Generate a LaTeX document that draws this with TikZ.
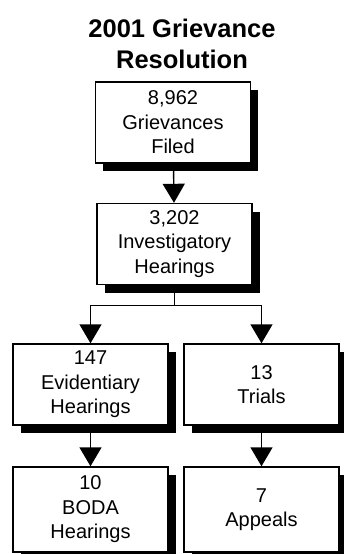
\documentclass[tikz,border=0pt]{standalone}
\usepackage{fontspec}
\setmainfont{Liberation Sans}
\usetikzlibrary{positioning,arrows.meta,shadows}

\begin{document}
\begin{tikzpicture}[x=1pt, y=-1pt,
  stage/.style={draw, line width=1.4pt, fill=white, align=center, inner sep=0pt,
    minimum width=155pt, minimum height=81pt, font=\fontsize{20}{24.5}\selectfont,
    general shadow={fill=black, shadow xshift=7.5pt, shadow yshift=-8pt}},
  flow/.style={line width=1.4pt, -{Triangle[width=22pt, length=19pt]}},
  stem/.style={line width=1.4pt}]
\useasboundingbox (0,0) rectangle (344,554);
\node[font=\bfseries\fontsize{25.5}{31}\selectfont, align=center] (title) at (182,44) {2001 Grievance\\Resolution};
\node[stage] (filed) at (173,122.5) {8,962\\Grievances\\Filed};
\node[stage] (invest) at (174.5,244) {3,202\\Investigatory\\Hearings};
\node[stage] (evid) at (90.5,384.5) {147\\Evidentiary\\Hearings};
\node[stage] (trials) at (261.5,384.5) {13\\Trials};
\node[stage, minimum height=85pt] (boda) at (90.5,509.5) {10\\BODA\\Hearings};
\node[stage, minimum height=85pt] (appeals) at (261.5,509.5) {7\\Appeals};
\draw[flow] (filed) -- (invest);
\draw[stem] (invest.south) -- ++(0,20) coordinate (split);
\draw[flow] (split) -| (evid.north);
\draw[flow] (split) -| (trials.north);
\draw[flow] (evid) -- (boda);
\draw[flow] (trials) -- (appeals);
\end{tikzpicture}
\end{document}
